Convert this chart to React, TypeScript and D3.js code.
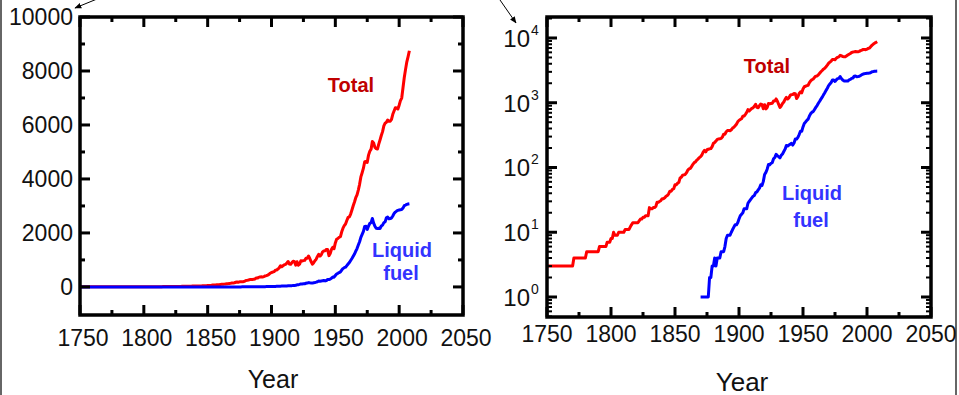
import React from 'react';
import * as d3 from 'd3';

// Global fossil-fuel carbon emissions (million tonnes C)
const totalStartYear = 1750;
const totalValues = [
  3, 3, 3, 3, 3, 3, 3, 3, 3, 3,
  3, 3, 3, 3, 3, 3, 3, 3, 3, 3,
  3, 4, 4, 4, 4, 4, 4, 4, 4, 4,
  4, 5, 5, 5, 5, 5, 5, 5, 5, 5,
  5, 6, 6, 6, 6, 6, 6, 7, 7, 7,
  8, 8, 10, 9, 9, 9, 10, 10, 10, 10,
  10, 11, 11, 11, 11, 12, 13, 14, 14, 14,
  14, 14, 15, 16, 16, 17, 17, 18, 18, 18,
  24, 23, 23, 24, 24, 25, 29, 29, 30, 31,
  33, 33, 34, 36, 37, 39, 43, 43, 46, 47,
  54, 54, 57, 59, 69, 71, 76, 77, 78, 83,
  91, 95, 97, 104, 112, 119, 122, 130, 135, 142,
  147, 156, 173, 184, 174, 188, 191, 194, 196, 210,
  236, 243, 256, 272, 275, 277, 281, 295, 327, 327,
  356, 372, 374, 370, 383, 406, 419, 440, 465, 507,
  534, 552, 566, 617, 624, 663, 707, 784, 750, 785,
  819, 836, 879, 943, 850, 838, 901, 955, 936, 806,
  932, 803, 845, 970, 963, 975, 983, 1062, 1065, 1145,
  1053, 940, 847, 893, 973, 1027, 1130, 1209, 1142, 1192,
  1299, 1334, 1342, 1391, 1383, 1160, 1238, 1392, 1469, 1419,
  1630, 1767, 1795, 1841, 1865, 2043, 2177, 2270, 2330, 2462,
  2577, 2594, 2700, 2848, 3008, 3145, 3305, 3411, 3588, 3800,
  4076, 4231, 4399, 4635, 4644, 4615, 4883, 5029, 5105, 5387,
  5332, 5168, 5127, 5110, 5290, 5444, 5610, 5753, 5964, 6065,
  6099, 6183, 6134, 6138, 6209, 6395, 6518, 6641, 6630, 6591,
  6732, 6903, 6997, 7378, 7757, 8060, 8339, 8535, 8749,
];

const liquidStartYear = 1870;
const liquidValues = [
  1, 1, 1, 1, 1, 1, 1, 2, 2, 3,
  3, 4, 3, 4, 4, 4, 5, 5, 5, 6,
  8, 9, 9, 9, 10, 11, 12, 13, 13, 14,
  16, 18, 19, 20, 23, 23, 23, 28, 30, 32,
  34, 36, 37, 41, 42, 45, 48, 54, 53, 61,
  78, 84, 94, 111, 110, 116, 119, 136, 143, 160,
  152, 147, 141, 154, 162, 176, 192, 219, 214, 222,
  229, 236, 222, 239, 275, 275, 292, 322, 364, 362,
  423, 479, 504, 533, 557, 625, 679, 714, 731, 789,
  849, 904, 980, 1052, 1137, 1219, 1323, 1423, 1551, 1673,
  1839, 1947, 2057, 2241, 2245, 2131, 2254, 2358, 2380, 2535,
  2361, 2250, 2174, 2166, 2170, 2165, 2255, 2290, 2381, 2411,
  2563, 2590, 2523, 2536, 2554, 2630, 2718, 2773, 2810, 2838,
  2852, 2862, 2866, 2920, 3013, 3034, 3060, 3073, 3080,
];
// On the linear panel the liquid-fuel curve is drawn at zero before it begins
const liquidPreStartValue = 0;

const xMajorTicks = [1750, 1800, 1850, 1900, 1950, 2000, 2050];
const xMinorTicks = [1775, 1825, 1875, 1925, 1975, 2025];
const linYMajorTicks = [0, 2000, 4000, 6000, 8000, 10000];
const linYMinorTicks = [1000, 3000, 5000, 7000, 9000];
const logYExponents = [0, 1, 2, 3, 4];

type Pt = { year: number; value: number };
const total: Pt[] = totalValues.map((v, i) => ({ year: totalStartYear + i, value: v }));
const liquid: Pt[] = liquidValues.map((v, i) => ({ year: liquidStartYear + i, value: v }));
const liquidLinear: Pt[] = d3
  .range(totalStartYear, liquidStartYear)
  .map((y) => ({ year: y, value: liquidPreStartValue }))
  .concat(liquid);

const FONT = '"Liberation Sans", Arial, Helvetica, sans-serif';
const RED = '#ff0000';
const BLUE = '#0000ff';
const LABEL_RED = '#c00000';
const LABEL_BLUE = '#3333ff';
const MAJ = 10;
const MIN = 5;

function Frame({ x0, x1, y0, y1 }: { x0: number; x1: number; y0: number; y1: number }) {
  return (
    <rect x={x0} y={y0} width={x1 - x0} height={y1 - y0} fill="none" stroke="#000" strokeWidth={3.5} />
  );
}

function LeftPanel() {
  const x = d3.scaleLinear().domain([1750, 2050]).range([80, 463]);
  const y = d3.scaleLinear().domain([-1040, 10000]).range([315, 17]);
  const [x0, x1] = x.range();
  const [y1, y0] = y.range();
  const line = d3
    .line<Pt>()
    .x((d) => x(d.year))
    .y((d) => y(d.value));
  const clipId = 'clipL';
  return (
    <g>
      <defs>
        <clipPath id={clipId}>
          <rect x={x0} y={y0} width={x1 - x0} height={y1 - y0} />
        </clipPath>
      </defs>
      <g clipPath={`url(#${clipId})`}>
        <path d={line(total) || ''} fill="none" stroke={RED} strokeWidth={3} strokeLinejoin="round" />
        <path d={line(liquidLinear) || ''} fill="none" stroke={BLUE} strokeWidth={3} strokeLinejoin="round" />
      </g>
      {xMajorTicks.map((t) => (
        <g key={'xm' + t}>
          <line x1={x(t)} x2={x(t)} y1={y1} y2={y1 - MAJ} stroke="#000" strokeWidth={3} />
          <line x1={x(t)} x2={x(t)} y1={y0} y2={y0 + MAJ} stroke="#000" strokeWidth={3} />
        </g>
      ))}
      {xMinorTicks.map((t) => (
        <g key={'xn' + t}>
          <line x1={x(t)} x2={x(t)} y1={y1} y2={y1 - MIN} stroke="#000" strokeWidth={3} />
          <line x1={x(t)} x2={x(t)} y1={y0} y2={y0 + MIN} stroke="#000" strokeWidth={3} />
        </g>
      ))}
      {linYMajorTicks.map((t) => (
        <g key={'ym' + t}>
          <line x1={x0} x2={x0 + MAJ} y1={y(t)} y2={y(t)} stroke="#000" strokeWidth={3} />
          <line x1={x1} x2={x1 - MAJ} y1={y(t)} y2={y(t)} stroke="#000" strokeWidth={3} />
        </g>
      ))}
      {linYMinorTicks.map((t) => (
        <g key={'yn' + t}>
          <line x1={x0} x2={x0 + MIN} y1={y(t)} y2={y(t)} stroke="#000" strokeWidth={3} />
          <line x1={x1} x2={x1 - MIN} y1={y(t)} y2={y(t)} stroke="#000" strokeWidth={3} />
        </g>
      ))}
      <Frame x0={x0} x1={x1} y0={y0} y1={y1} />
      {linYMajorTicks.map((t) => (
        <text key={'yl' + t} x={73} y={y(t) + 8} textAnchor="end" fontSize={23} fontFamily={FONT} fill="#111">
          {t}
        </text>
      ))}
      {xMajorTicks.map((t) => (
        <text key={'xl' + t} x={x(t) + 3} y={346} textAnchor="middle" fontSize={23} fontFamily={FONT} fill="#111">
          {t}
        </text>
      ))}
      <text x={273} y={388} textAnchor="middle" fontSize={25} fontFamily={FONT} fill="#111">
        Year
      </text>
      <text x={351} y={92} textAnchor="middle" fontSize={20} fontWeight="bold" fontFamily={FONT} fill={LABEL_RED}>
        Total
      </text>
      <text x={402} y={257} textAnchor="middle" fontSize={20} fontWeight="bold" fontFamily={FONT} fill={LABEL_BLUE}>
        Liquid
      </text>
      <text x={401} y={280} textAnchor="middle" fontSize={20} fontWeight="bold" fontFamily={FONT} fill={LABEL_BLUE}>
        fuel
      </text>
    </g>
  );
}

function RightPanel() {
  const x = d3.scaleLinear().domain([1750, 2050]).range([547, 931]);
  const y = d3.scaleLog().domain([Math.pow(10, -0.309), Math.pow(10, 4.324)]).range([317, 17]);
  const [x0, x1] = x.range();
  const [y1, y0] = y.range();
  const line = d3
    .line<Pt>()
    .x((d) => x(d.year))
    .y((d) => y(d.value));
  const [dMin, dMax] = y.domain();
  const minorLog: number[] = [];
  for (let e = -1; e <= 4; e++) {
    for (let m = 2; m <= 9; m++) {
      const v = m * Math.pow(10, e);
      if (v > dMin && v < dMax) minorLog.push(v);
    }
  }
  const clipId = 'clipR';
  return (
    <g>
      <defs>
        <clipPath id={clipId}>
          <rect x={x0} y={y0} width={x1 - x0} height={y1 - y0} />
        </clipPath>
      </defs>
      <g clipPath={`url(#${clipId})`}>
        <path d={line(total) || ''} fill="none" stroke={RED} strokeWidth={3} strokeLinejoin="round" />
        <path d={line(liquid) || ''} fill="none" stroke={BLUE} strokeWidth={3} strokeLinejoin="round" />
      </g>
      {xMajorTicks.map((t) => (
        <g key={'xm' + t}>
          <line x1={x(t)} x2={x(t)} y1={y1} y2={y1 - MAJ} stroke="#000" strokeWidth={3} />
          <line x1={x(t)} x2={x(t)} y1={y0} y2={y0 + MAJ} stroke="#000" strokeWidth={3} />
        </g>
      ))}
      {xMinorTicks.map((t) => (
        <g key={'xn' + t}>
          <line x1={x(t)} x2={x(t)} y1={y1} y2={y1 - MIN} stroke="#000" strokeWidth={3} />
          <line x1={x(t)} x2={x(t)} y1={y0} y2={y0 + MIN} stroke="#000" strokeWidth={3} />
        </g>
      ))}
      {logYExponents.map((e) => {
        const v = Math.pow(10, e);
        return (
          <g key={'ym' + e}>
            <line x1={x0} x2={x0 + MAJ} y1={y(v)} y2={y(v)} stroke="#000" strokeWidth={3} />
            <line x1={x1} x2={x1 - MAJ} y1={y(v)} y2={y(v)} stroke="#000" strokeWidth={3} />
          </g>
        );
      })}
      {minorLog.map((v) => (
        <g key={'yn' + v}>
          <line x1={x0} x2={x0 + MIN} y1={y(v)} y2={y(v)} stroke="#000" strokeWidth={2} />
          <line x1={x1} x2={x1 - MIN} y1={y(v)} y2={y(v)} stroke="#000" strokeWidth={2} />
        </g>
      ))}
      <Frame x0={x0} x1={x1} y0={y0} y1={y1} />
      {logYExponents.map((e) => {
        const v = Math.pow(10, e);
        return (
          <g key={'yl' + e}>
            <text x={530} y={y(v) + 9} textAnchor="end" fontSize={24} fontFamily={FONT} fill="#111">
              10
            </text>
            <text x={531} y={y(v) - 3} textAnchor="start" fontSize={14} fontFamily={FONT} fill="#111">
              {e}
            </text>
          </g>
        );
      })}
      {xMajorTicks.map((t) => (
        <text key={'xl' + t} x={x(t)} y={342} textAnchor="middle" fontSize={23} fontFamily={FONT} fill="#111">
          {t}
        </text>
      ))}
      <text x={742} y={391} textAnchor="middle" fontSize={26} fontFamily={FONT} fill="#111">
        Year
      </text>
      <text x={767} y={73} textAnchor="middle" fontSize={20} fontWeight="bold" fontFamily={FONT} fill={LABEL_RED}>
        Total
      </text>
      <text x={812} y={200} textAnchor="middle" fontSize={20} fontWeight="bold" fontFamily={FONT} fill={LABEL_BLUE}>
        Liquid
      </text>
      <text x={811} y={227} textAnchor="middle" fontSize={20} fontWeight="bold" fontFamily={FONT} fill={LABEL_BLUE}>
        fuel
      </text>
    </g>
  );
}

export default function App() {
  return (
    <svg
      width={959}
      height={395}
      viewBox="0 0 959 395"
      style={{ position: 'absolute', left: 0, top: 0, background: '#fff' }}
    >
      <defs>
        <marker id="arrowHead" viewBox="0 0 10 10" refX="9" refY="5" markerWidth="7" markerHeight="7" orient="auto">
          <path d="M0,1 L10,5 L0,9 Z" fill="#000" />
        </marker>
      </defs>
      <rect x={0} y={0} width={959} height={395} fill="#fff" />
      <line x1={1} x2={1} y1={0} y2={395} stroke="#333" strokeWidth={1.5} />
      <line x1={956} x2={956} y1={0} y2={395} stroke="#333" strokeWidth={1.5} />
      <line x1={97} y1={-1} x2={75} y2={8} stroke="#000" strokeWidth={1} markerEnd="url(#arrowHead)" />
      <line x1={500} y1={0} x2={516} y2={23} stroke="#000" strokeWidth={1} markerEnd="url(#arrowHead)" />
      <LeftPanel />
      <RightPanel />
    </svg>
  );
}
